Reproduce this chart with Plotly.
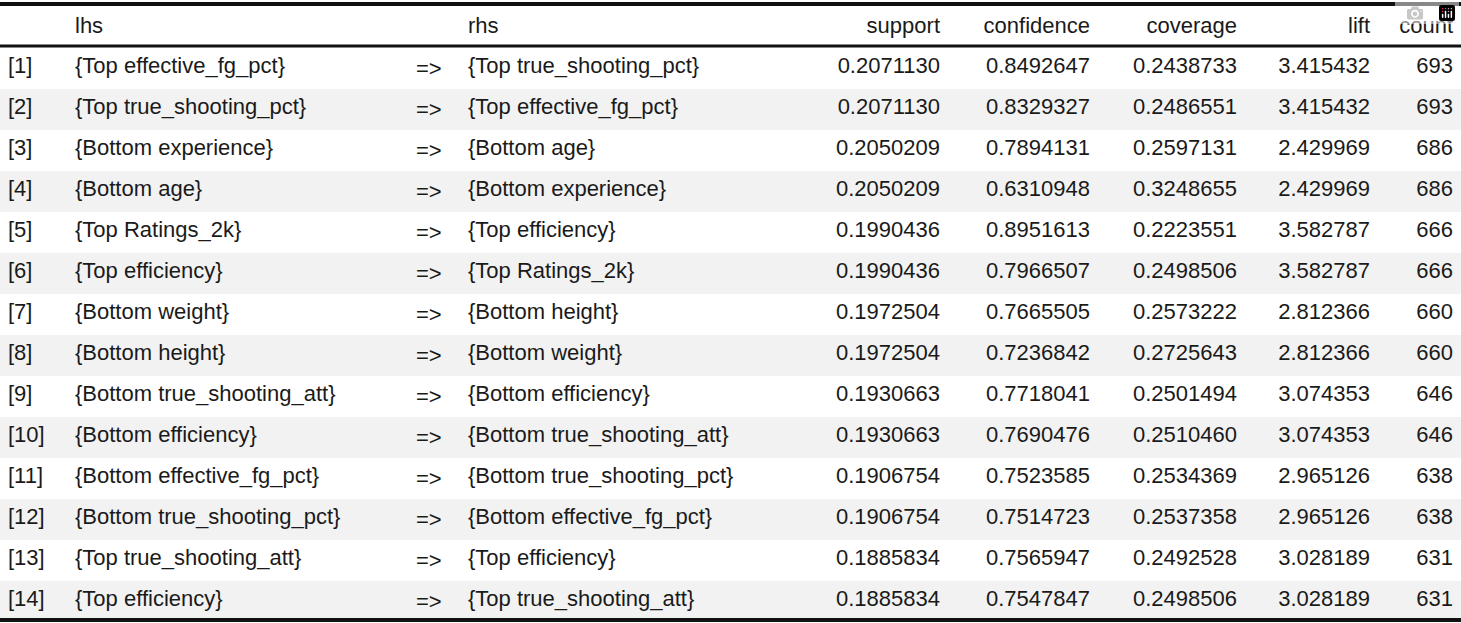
import plotly.graph_objects as go

W, H = 1461, 623

idx = ["[%d]" % i for i in range(1, 16)]
lhs = ["{Top effective_fg_pct}", "{Top true_shooting_pct}", "{Bottom experience}", "{Bottom age}",
       "{Top Ratings_2k}", "{Top efficiency}", "{Bottom weight}", "{Bottom height}",
       "{Bottom true_shooting_att}", "{Bottom efficiency}", "{Bottom effective_fg_pct}",
       "{Bottom true_shooting_pct}", "{Top true_shooting_att}", "{Top efficiency}", "{Bottom rebounds}"]
rhs = ["{Top true_shooting_pct}", "{Top effective_fg_pct}", "{Bottom age}", "{Bottom experience}",
       "{Top efficiency}", "{Top Ratings_2k}", "{Bottom height}", "{Bottom weight}",
       "{Bottom efficiency}", "{Bottom true_shooting_att}", "{Bottom true_shooting_pct}",
       "{Bottom effective_fg_pct}", "{Top efficiency}", "{Top true_shooting_att}", "{Bottom efficiency}"]
support = ["0.2071130", "0.2071130", "0.2050209", "0.2050209", "0.1990436", "0.1990436", "0.1972504",
           "0.1972504", "0.1930663", "0.1930663", "0.1906754", "0.1906754", "0.1885834", "0.1885834", "0.1849970"]
confidence = ["0.8492647", "0.8329327", "0.7894131", "0.6310948", "0.8951613", "0.7966507", "0.7665505",
              "0.7236842", "0.7718041", "0.7690476", "0.7523585", "0.7514723", "0.7565947", "0.7547847", "0.7377831"]
coverage = ["0.2438733", "0.2486551", "0.2597131", "0.3248655", "0.2223551", "0.2498506", "0.2573222",
            "0.2725643", "0.2501494", "0.2510460", "0.2534369", "0.2537358", "0.2492528", "0.2498506", "0.2507472"]
lift = ["3.415432", "3.415432", "2.429969", "2.429969", "3.582787", "3.582787", "2.812366", "2.812366",
        "3.074353", "3.074353", "2.965126", "2.965126", "3.028189", "3.028189", "2.938836"]
count = [693, 693, 686, 686, 666, 666, 660, 660, 646, 646, 638, 638, 631, 631, 619]

headers = ["", "lhs", "", "rhs", "support", "confidence", "coverage", "lift", "count"]
columns = [idx, lhs, ["=>"] * 15, rhs, support, confidence, coverage, lift, count]
edges = [0, 67, 408, 460, 790, 948, 1098, 1245, 1378, 1461]
widths = [b - a for a, b in zip(edges[:-1], edges[1:])]
aligns = ["left"] * 4 + ["right"] * 5

row_fill = ["white" if i % 2 == 0 else "#f2f2f2" for i in range(15)]
font = dict(family="Liberation Sans, Arial", size=22, color="#1a1a1a")

fig = go.Figure(go.Table(
    domain=dict(x=[0, 1], y=[(H - 618) / H, (H - 8) / H]),
    columnwidth=widths,
    header=dict(values=headers, align=aligns, height=40, font=font,
                fill_color="white", line=dict(color="white", width=1)),
    cells=dict(values=columns, align=aligns, height=38, font=font,
               fill_color=[row_fill] * 9, line=dict(color=[row_fill] * 9, width=1)),
))

# the three horizontal rules of the table
for p, w in [(4, 4), (46, 3), (620, 4)]:
    y = (H - p) / H
    fig.add_shape(type="line", xref="paper", yref="paper", x0=0, x1=1, y0=y, y1=y,
                  line=dict(color="#111111", width=w))

fig.update_layout(width=W, height=H, margin=dict(l=0, r=0, t=0, b=0),
                  paper_bgcolor="white", plot_bgcolor="white")
fig.write_html("out.html", post_script="document.body.style.margin='0';")
